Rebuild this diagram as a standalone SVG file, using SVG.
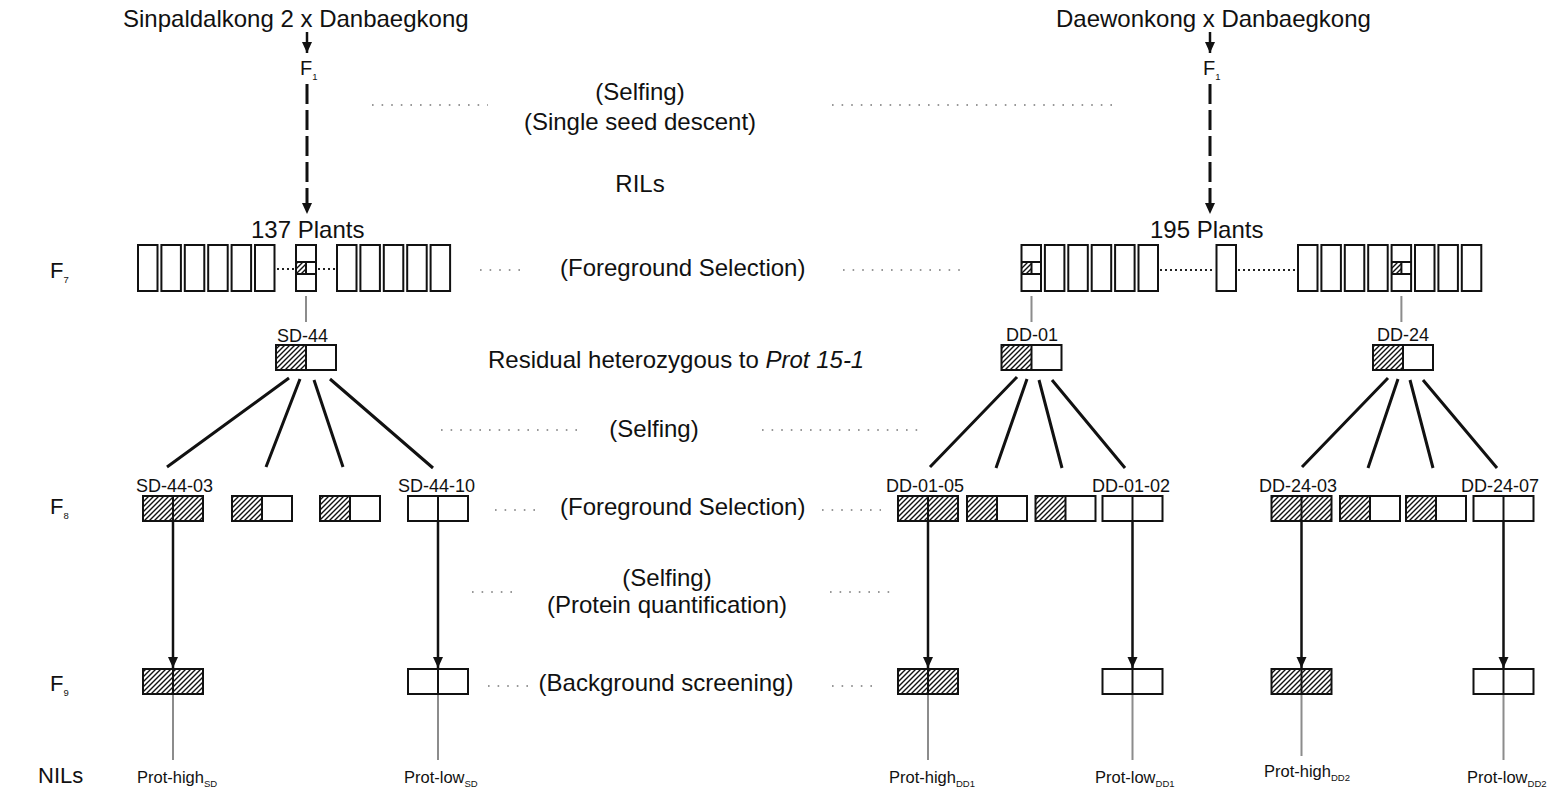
<svg xmlns="http://www.w3.org/2000/svg" width="1560" height="795" viewBox="0 0 1560 795">
<style>
.t{font-family:"Liberation Sans",Arial,sans-serif;fill:#111}
.big{font-size:24px}
.f{font-size:20px}
.g{font-size:22px}
.lab{font-size:18px}
.nil{font-size:16.5px}
.sub{font-size:9.5px}
.box{fill:none;stroke:#111;stroke-width:2}
.h{fill:url(#hatch);stroke:none}
.dots{stroke:#777;stroke-width:1.6;stroke-dasharray:1.6 8;fill:none}
.bdots{stroke:#222;stroke-width:2;stroke-dasharray:2 3;fill:none}
.gray{stroke:#8c8c8c;stroke-width:2;fill:none}
.fan{stroke:#111;stroke-width:3;fill:none}
.arr{stroke:#111;stroke-width:2.5;fill:none;marker-end:url(#ah)}
.dash{stroke:#111;stroke-width:3;stroke-dasharray:20 6;fill:none;marker-end:url(#ah)}
</style>
<defs>
<pattern id="hatch" patternUnits="userSpaceOnUse" width="5" height="5">
<rect width="5" height="5" fill="#fff"/>
<path d="M-1,1 L1,-1 M0,5 L5,0 M4,6 L6,4" stroke="#111" stroke-width="1.4"/>
</pattern>
<marker id="ah" markerUnits="userSpaceOnUse" markerWidth="12" markerHeight="12" refX="11" refY="5" orient="auto">
<path d="M0,0 L11,5 L0,10 z" fill="#111"/>
</marker>
</defs>

<g id="titles">
<text class="t big" x="123" y="27">Sinpaldalkong 2 x Danbaegkong</text>
<text class="t big" x="1056" y="27">Daewonkong x Danbaegkong</text>
<text class="t f" x="300" y="75">F<tspan class="sub" dy="5">1</tspan></text>
<text class="t f" x="1203" y="75">F<tspan class="sub" dy="5">1</tspan></text>
</g>

<g id="generation-labels">
<text class="t g" x="50" y="278">F<tspan class="sub" dy="5">7</tspan></text>
<text class="t g" x="50" y="514">F<tspan class="sub" dy="5">8</tspan></text>
<text class="t g" x="50" y="691">F<tspan class="sub" dy="5">9</tspan></text>
<text class="t" style="font-size:22px" x="38" y="783">NILs</text>
</g>

<g id="step-labels">
<text class="t big" x="640" y="100" text-anchor="middle">(Selfing)</text>
<text class="t big" x="640" y="130" text-anchor="middle">(Single seed descent)</text>
<text class="t big" x="640" y="192" text-anchor="middle">RILs</text>
<text class="t big" x="560" y="276">(Foreground Selection)</text>
<text class="t big" x="488" y="368">Residual heterozygous to <tspan font-style="italic">Prot 15-1</tspan></text>
<text class="t big" x="654" y="437" text-anchor="middle">(Selfing)</text>
<text class="t big" x="560" y="515">(Foreground Selection)</text>
<text class="t big" x="667" y="586" text-anchor="middle">(Selfing)</text>
<text class="t big" x="667" y="613" text-anchor="middle">(Protein quantification)</text>
<text class="t big" x="666" y="691" text-anchor="middle">(Background screening)</text>
<text class="t big" x="251" y="238">137 Plants</text>
<text class="t big" x="1150" y="238">195 Plants</text>
</g>

<g id="dotted-guides">
<path class="dots" d="M372,105H488 M832,105H1116"/>
<path class="dots" d="M480,270H522 M843,270H966"/>
<path class="dots" d="M441,430H579 M762,430H923"/>
<path class="dots" d="M495,510H539 M822,510H881"/>
<path class="dots" d="M472,592H516 M830,592H894"/>
<path class="dots" d="M488,686H529 M832,686H873"/>
</g>

<g id="connectors">
<line class="arr" x1="307" y1="32" x2="307" y2="53"/>
<line class="arr" x1="1210" y1="32" x2="1210" y2="53"/>
<line class="dash" x1="307" y1="84" x2="307" y2="214"/>
<line class="dash" x1="1210" y1="84" x2="1210" y2="214"/>
<path class="gray" d="M306,296V322 M1031.5,296V322 M1401.4,296V322"/>
<path class="fan" d="M289,378L167,467 M300,379L266,467 M314,380L343,467 M330,379L433,468"/>
<path class="fan" d="M1017,377L930,467 M1027,379L996,468 M1039,380L1062,468 M1052,380L1125,468"/>
<path class="fan" d="M1388,378L1302,467 M1398,379L1368,468 M1410,380L1433,468 M1423,380L1497,468"/>
<line class="arr" x1="173" y1="521" x2="173" y2="668"/>
<line class="arr" x1="438" y1="521" x2="438" y2="668"/>
<line class="arr" x1="928" y1="521" x2="928" y2="668"/>
<line class="arr" x1="1132.5" y1="521" x2="1132.5" y2="668"/>
<line class="arr" x1="1301.5" y1="521" x2="1301.5" y2="668"/>
<line class="arr" x1="1503.5" y1="521" x2="1503.5" y2="668"/>
<path class="gray" d="M173,695V760 M438,695V760 M928,695V760 M1132.5,695V760 M1301.5,695V756 M1503.5,695V760"/>
</g>

<g id="F7-SD">
<rect class="box" x="138" y="245" width="19.5" height="46"/>
<rect class="box" x="161.4" y="245" width="19.5" height="46"/>
<rect class="box" x="184.8" y="245" width="19.5" height="46"/>
<rect class="box" x="208.2" y="245" width="19.5" height="46"/>
<rect class="box" x="231.6" y="245" width="19.5" height="46"/>
<rect class="box" x="255" y="245" width="19.5" height="46"/>
<path class="bdots" d="M277,269H295 M318,269H336"/>
<rect class="h" x="296" y="262" width="10" height="12"/>
<rect class="box" x="296" y="245" width="20" height="46"/>
<path class="box" d="M296,262H316 M296,274H316 M306,262V274"/>
<rect class="box" x="337" y="245" width="19.5" height="46"/>
<rect class="box" x="360.4" y="245" width="19.5" height="46"/>
<rect class="box" x="383.8" y="245" width="19.5" height="46"/>
<rect class="box" x="407.2" y="245" width="19.5" height="46"/>
<rect class="box" x="430.6" y="245" width="19.5" height="46"/>
</g>

<g id="F7-DD">
<rect class="h" x="1021.5" y="262" width="10" height="12"/>
<rect class="box" x="1021.5" y="245" width="19.5" height="46"/>
<path class="box" d="M1021.5,262H1041 M1021.5,274H1041 M1031.5,262V274"/>
<rect class="box" x="1044.9" y="245" width="19.5" height="46"/>
<rect class="box" x="1068.3" y="245" width="19.5" height="46"/>
<rect class="box" x="1091.7" y="245" width="19.5" height="46"/>
<rect class="box" x="1115.1" y="245" width="19.5" height="46"/>
<rect class="box" x="1138.5" y="245" width="19.5" height="46"/>
<path class="bdots" d="M1160,270H1215 M1238,270H1297"/>
<rect class="box" x="1216.5" y="245" width="19.5" height="46"/>
<rect class="box" x="1298" y="245" width="19.5" height="46"/>
<rect class="box" x="1321.4" y="245" width="19.5" height="46"/>
<rect class="box" x="1344.8" y="245" width="19.5" height="46"/>
<rect class="box" x="1368.2" y="245" width="19.5" height="46"/>
<rect class="h" x="1391.6" y="262" width="10" height="12"/>
<rect class="box" x="1391.6" y="245" width="19.5" height="46"/>
<path class="box" d="M1391.6,262H1411.1 M1391.6,274H1411.1 M1401.4,262V274"/>
<rect class="box" x="1415" y="245" width="19.5" height="46"/>
<rect class="box" x="1438.4" y="245" width="19.5" height="46"/>
<rect class="box" x="1461.8" y="245" width="19.5" height="46"/>
</g>

<g id="SD-44">
<text class="t lab" x="277" y="342">SD-44</text>
<rect class="h" x="276" y="345" width="30" height="25"/>
<rect class="box" x="276" y="345" width="60" height="25"/>
<line class="box" x1="306" y1="345" x2="306" y2="370"/>
</g>
<g id="DD-01">
<text class="t lab" x="1006" y="341">DD-01</text>
<rect class="h" x="1001.5" y="345" width="30" height="25"/>
<rect class="box" x="1001.5" y="345" width="60" height="25"/>
<line class="box" x1="1031.5" y1="345" x2="1031.5" y2="370"/>
</g>
<g id="DD-24">
<text class="t lab" x="1377" y="341">DD-24</text>
<rect class="h" x="1373" y="345" width="30" height="25"/>
<rect class="box" x="1373" y="345" width="60" height="25"/>
<line class="box" x1="1403" y1="345" x2="1403" y2="370"/>
</g>

<g id="SD-44-03">
<text class="t lab" x="136" y="492">SD-44-03</text>
<rect class="h" x="143" y="496" width="60" height="25"/>
<rect class="box" x="143" y="496" width="60" height="25"/>
<line class="box" x1="173" y1="496" x2="173" y2="521"/>
</g>
<g id="SD-44-a">
<rect class="h" x="232" y="496" width="30" height="25"/>
<rect class="box" x="232" y="496" width="60" height="25"/>
<line class="box" x1="262" y1="496" x2="262" y2="521"/>
</g>
<g id="SD-44-b">
<rect class="h" x="320" y="496" width="30" height="25"/>
<rect class="box" x="320" y="496" width="60" height="25"/>
<line class="box" x1="350" y1="496" x2="350" y2="521"/>
</g>
<g id="SD-44-10">
<text class="t lab" x="398" y="492">SD-44-10</text>
<rect class="box" x="408" y="496" width="60" height="25"/>
<line class="box" x1="438" y1="496" x2="438" y2="521"/>
</g>

<g id="DD-01-05">
<text class="t lab" x="886" y="492">DD-01-05</text>
<rect class="h" x="898" y="496" width="60" height="25"/>
<rect class="box" x="898" y="496" width="60" height="25"/>
<line class="box" x1="928" y1="496" x2="928" y2="521"/>
</g>
<g id="DD-01-a">
<rect class="h" x="967" y="496" width="30" height="25"/>
<rect class="box" x="967" y="496" width="60" height="25"/>
<line class="box" x1="997" y1="496" x2="997" y2="521"/>
</g>
<g id="DD-01-b">
<rect class="h" x="1035.5" y="496" width="30" height="25"/>
<rect class="box" x="1035.5" y="496" width="60" height="25"/>
<line class="box" x1="1065.5" y1="496" x2="1065.5" y2="521"/>
</g>
<g id="DD-01-02">
<text class="t lab" x="1092" y="492">DD-01-02</text>
<rect class="box" x="1102.5" y="496" width="60" height="25"/>
<line class="box" x1="1132.5" y1="496" x2="1132.5" y2="521"/>
</g>

<g id="DD-24-03">
<text class="t lab" x="1259" y="492">DD-24-03</text>
<rect class="h" x="1271.5" y="496" width="60" height="25"/>
<rect class="box" x="1271.5" y="496" width="60" height="25"/>
<line class="box" x1="1301.5" y1="496" x2="1301.5" y2="521"/>
</g>
<g id="DD-24-a">
<rect class="h" x="1340" y="496" width="30" height="25"/>
<rect class="box" x="1340" y="496" width="60" height="25"/>
<line class="box" x1="1370" y1="496" x2="1370" y2="521"/>
</g>
<g id="DD-24-b">
<rect class="h" x="1406" y="496" width="30" height="25"/>
<rect class="box" x="1406" y="496" width="60" height="25"/>
<line class="box" x1="1436" y1="496" x2="1436" y2="521"/>
</g>
<g id="DD-24-07">
<text class="t lab" x="1461" y="492">DD-24-07</text>
<rect class="box" x="1473.5" y="496" width="60" height="25"/>
<line class="box" x1="1503.5" y1="496" x2="1503.5" y2="521"/>
</g>

<g id="F9-SD-high">
<rect class="h" x="143" y="669" width="60" height="25"/>
<rect class="box" x="143" y="669" width="60" height="25"/>
<line class="box" x1="173" y1="669" x2="173" y2="694"/>
<text class="t nil" x="137" y="783">Prot-high<tspan class="sub" dy="4">SD</tspan></text>
</g>
<g id="F9-SD-low">
<rect class="box" x="408" y="669" width="60" height="25"/>
<line class="box" x1="438" y1="669" x2="438" y2="694"/>
<text class="t nil" x="404" y="783">Prot-low<tspan class="sub" dy="4">SD</tspan></text>
</g>
<g id="F9-DD1-high">
<rect class="h" x="898" y="669" width="60" height="25"/>
<rect class="box" x="898" y="669" width="60" height="25"/>
<line class="box" x1="928" y1="669" x2="928" y2="694"/>
<text class="t nil" x="889" y="783">Prot-high<tspan class="sub" dy="4">DD1</tspan></text>
</g>
<g id="F9-DD1-low">
<rect class="box" x="1102.5" y="669" width="60" height="25"/>
<line class="box" x1="1132.5" y1="669" x2="1132.5" y2="694"/>
<text class="t nil" x="1095" y="783">Prot-low<tspan class="sub" dy="4">DD1</tspan></text>
</g>
<g id="F9-DD2-high">
<rect class="h" x="1271.5" y="669" width="60" height="25"/>
<rect class="box" x="1271.5" y="669" width="60" height="25"/>
<line class="box" x1="1301.5" y1="669" x2="1301.5" y2="694"/>
<text class="t nil" x="1264" y="777">Prot-high<tspan class="sub" dy="4">DD2</tspan></text>
</g>
<g id="F9-DD2-low">
<rect class="box" x="1473.5" y="669" width="60" height="25"/>
<line class="box" x1="1503.5" y1="669" x2="1503.5" y2="694"/>
<text class="t nil" x="1467" y="783">Prot-low<tspan class="sub" dy="4">DD2</tspan></text>
</g>
</svg>
